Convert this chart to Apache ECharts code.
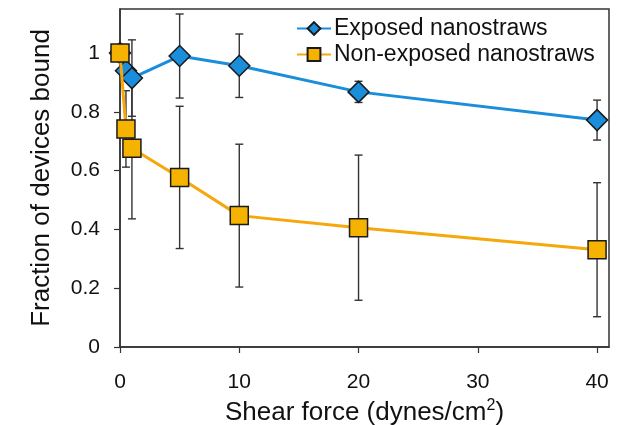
<!DOCTYPE html>
<html>
<head>
<meta charset="utf-8">
<script src="https://cdn.jsdelivr.net/npm/echarts@6/dist/echarts.min.js"></script>
<style>
  html, body { margin: 0; padding: 0; background: #fff; }
  #chart { width: 631px; height: 425px; }
</style>
</head>
<body>
<div id="chart"></div>
<script>
// shear force values (dynes/cm2)
const shear = [0, 0.5, 1, 5, 10, 20, 40]

const exposed = [1.0, 0.94, 0.915, 0.99, 0.957, 0.868, 0.772]
const exposedErr = [0, 0.02, 0.13, 0.143, 0.108, 0.036, 0.068]

const nonExposed = [1.0, 0.742, 0.676, 0.577, 0.447, 0.406, 0.331]
const nonExposedErr = [0, 0.13, 0.24, 0.242, 0.243, 0.247, 0.228]

const xTicks = [0, 10, 20, 30, 40]
const yTicks = [0, 0.2, 0.4, 0.6, 0.8, 1]

const blue = '#1a8ddb'
const orange = '#f5a70c'
const orangeFill = '#f5b300'
const ink = '#333'

const pairs = (ys) => shear.map((x, i) => [x, ys[i]])
const errData = (ys, es) => shear.map((x, i) => [x, ys[i] - es[i], ys[i] + es[i]])

const errorBars = (name, ys, es) => ({
    type: 'custom',
    name: name + ' err',
    z: 1,
    silent: true,
    renderItem: (params, api) => {
        const x = api.value(0)
        const lo = api.coord([x, api.value(1)])
        const hi = api.coord([x, api.value(2)])
        const cap = 4
        const style = { stroke: ink, lineWidth: 1.4 }
        return {
            type: 'group',
            children: [
                { type: 'line', shape: { x1: lo[0], y1: lo[1], x2: hi[0], y2: hi[1] }, style },
                { type: 'line', shape: { x1: lo[0] - cap, y1: lo[1], x2: lo[0] + cap, y2: lo[1] }, style },
                { type: 'line', shape: { x1: hi[0] - cap, y1: hi[1], x2: hi[0] + cap, y2: hi[1] }, style },
            ],
        }
    },
    encode: { x: 0, y: [1, 2] },
    data: errData(ys, es),
})

const chart = echarts.init(document.getElementById('chart'), null, { renderer: 'canvas' })

chart.setOption({
    animation: false,
    textStyle: { fontFamily: 'Liberation Sans, Arial, sans-serif' },
    grid: {
        left: 120, right: 22, top: 9, bottom: 78,
        outerBoundsMode: 'none',
        containLabel: false,
        show: true, borderColor: ink, borderWidth: 1.5, backgroundColor: 'transparent',
    },
    legend: {
        orient: 'vertical',
        left: 296,
        top: 17,
        padding: 0,
        itemWidth: 34,
        itemHeight: 16,
        itemGap: 3,
        textStyle: { fontSize: 23, color: '#111', padding: [0, 0, 0, -2] },
        data: ['Exposed nanostraws', 'Non-exposed nanostraws'],
    },
    xAxis: {
        type: 'value',
        min: 0,
        max: 41,
        interval: 10,
        name: 'Shear force (dynes/cm{sup|2})',
        nameLocation: 'middle',
        nameGap: 49,
        nameTextStyle: {
            fontSize: 26, color: '#111',
            rich: { sup: { fontSize: 16, verticalAlign: 'top', padding: [0, 0, 13, 0], color: '#111' } },
        },
        axisLine: { show: true, lineStyle: { color: ink, width: 1.5 } },
        axisTick: { show: true, length: 6, lineStyle: { color: ink, width: 1.2 }, customValues: xTicks },
        axisLabel: { fontSize: 21, color: '#111', margin: 25, customValues: xTicks },
        splitLine: { show: false },
    },
    yAxis: {
        type: 'value',
        min: 0,
        max: 1.15,
        interval: 0.2,
        name: 'Fraction of devices bound',
        nameLocation: 'middle',
        nameGap: 65,
        nameTextStyle: { fontSize: 26, color: '#111' },
        axisLine: { show: true, lineStyle: { color: ink, width: 1.5 } },
        axisTick: { show: true, length: 6, lineStyle: { color: ink, width: 1.2 }, customValues: yTicks },
        axisLabel: { fontSize: 21, color: '#111', margin: 20, customValues: yTicks },
        splitLine: { show: false },
    },
    series: [
        errorBars('Exposed nanostraws', exposed, exposedErr),
        errorBars('Non-exposed nanostraws', nonExposed, nonExposedErr),
        {
            name: 'Exposed nanostraws',
            type: 'line',
            z: 3,
            data: pairs(exposed),
            symbol: 'diamond',
            symbolSize: [21, 21],
            lineStyle: { color: blue, width: 3 },
            itemStyle: { color: blue, borderColor: '#1a1a1a', borderWidth: 1.5 },
        },
        {
            name: 'Non-exposed nanostraws',
            type: 'line',
            z: 4,
            data: pairs(nonExposed),
            symbol: 'rect',
            symbolSize: [18, 18],
            lineStyle: { color: orange, width: 3 },
            itemStyle: { color: orangeFill, borderColor: '#1a1a1a', borderWidth: 1.5 },
        },
    ],
})
</script>
</body>
</html>
